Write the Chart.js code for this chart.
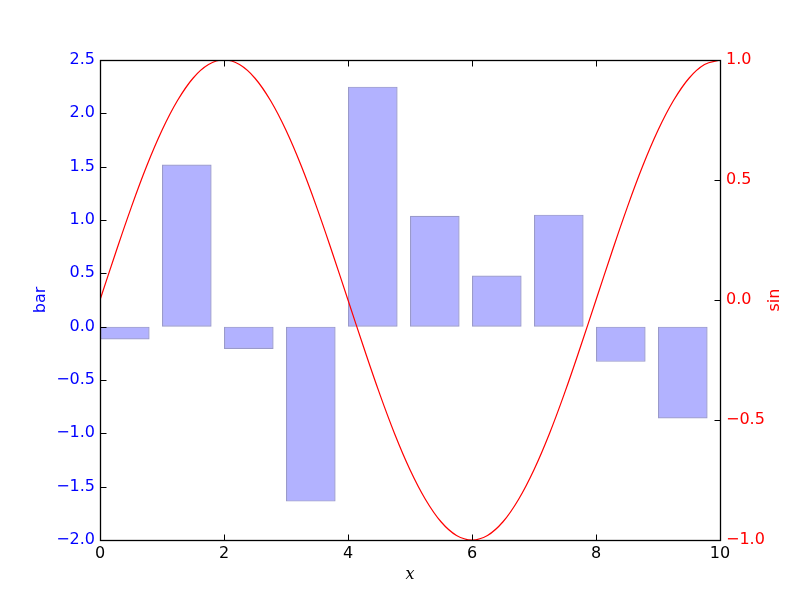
<!DOCTYPE html>
<html>
<head>
<meta charset="utf-8">
<script src="https://cdn.jsdelivr.net/npm/chart.js@4/dist/chart.umd.min.js"></script>
<style>
  html, body { margin: 0; padding: 0; background: #ffffff; }
  #wrap { width: 800px; height: 600px; }
</style>
</head>
<body>
<div id="wrap"><canvas id="c" width="800" height="600"></canvas></div>
<script>
// ---- data ----
const barCategories = [0, 1, 2, 3, 4, 5, 6, 7, 8, 9];   // left edge of each bar
const barWidth = 0.8;
const barValues = [-0.12, 1.52, -0.21, -1.64, 2.25, 1.04, 0.48, 1.05, -0.33, -0.86];

const sinX = [0, 0.25, 0.5, 0.75, 1, 1.25, 1.5, 1.75, 2, 2.25, 2.5, 2.75, 3, 3.25, 3.5, 3.75,
              4, 4.25, 4.5, 4.75, 5, 5.25, 5.5, 5.75, 6, 6.25, 6.5, 6.75, 7, 7.25, 7.5, 7.75,
              8, 8.25, 8.5, 8.75, 9, 9.25, 9.5, 9.75, 10];
const sinY = [0, 0.195, 0.383, 0.556, 0.707, 0.831, 0.924, 0.981, 1.000, 0.981, 0.924, 0.831, 0.707, 0.556, 0.383, 0.195,
              0, -0.195, -0.383, -0.556, -0.707, -0.831, -0.924, -0.981, -1.000, -0.981, -0.924, -0.831, -0.707, -0.556, -0.383, -0.195,
              0, 0.195, 0.383, 0.556, 0.707, 0.831, 0.924, 0.981, 1.000];

const xTicks = [0, 2, 4, 6, 8, 10];
const leftTicks = [-2.0, -1.5, -1.0, -0.5, 0.0, 0.5, 1.0, 1.5, 2.0, 2.5];
const rightTicks = [-1.0, -0.5, 0.0, 0.5, 1.0];

const leftTitle = 'bar';
const rightTitle = 'sin';
const xTitle = 'x';

// ---- build ----
const barData = barCategories.map((c, i) => ({ x: c + barWidth / 2, y: barValues[i] }));
const lineData = sinX.map((x, i) => ({ x: x, y: sinY[i] }));

const fmt = v => {
  const s = Number(v).toFixed(1);
  return s.replace('-', '\u2212');
};
const fmtInt = v => String(v);

const FONT = { family: 'DejaVu Sans', size: 16 };

const framePlugin = {
  id: 'frame',
  afterDraw(chart) {
    const ctx = chart.ctx;
    const a = chart.chartArea;
    const sx = chart.scales.x, sy = chart.scales.y, sy2 = chart.scales.y2;
    const L = Math.round(a.left) + 0.5, R = Math.round(a.right) + 0.5;
    const T = Math.round(a.top) + 0.5, B = Math.round(a.bottom) + 0.5;
    const tl = 6;
    ctx.save();
    ctx.strokeStyle = '#000000';
    ctx.lineWidth = 1;
    ctx.beginPath();
    xTicks.forEach(v => {
      const px = Math.round(sx.getPixelForValue(v)) + 0.5;
      ctx.moveTo(px, B); ctx.lineTo(px, B - tl);
      ctx.moveTo(px, T); ctx.lineTo(px, T + tl);
    });
    leftTicks.forEach(v => {
      const py = Math.round(sy.getPixelForValue(v)) + 0.5;
      ctx.moveTo(L, py); ctx.lineTo(L + tl, py);
    });
    rightTicks.forEach(v => {
      const py = Math.round(sy2.getPixelForValue(v)) + 0.5;
      ctx.moveTo(R, py); ctx.lineTo(R - tl, py);
    });
    ctx.stroke();
    ctx.lineWidth = 1.3;
    ctx.strokeRect(L, T, R - L, B - T);

    ctx.textAlign = 'center';
    ctx.textBaseline = 'middle';
    ctx.font = '16px "DejaVu Sans"';
    ctx.fillStyle = '#0000ff';
    ctx.save();
    ctx.translate(41, (a.top + a.bottom) / 2);
    ctx.rotate(-Math.PI / 2);
    ctx.fillText(leftTitle, 0, 0);
    ctx.restore();
    ctx.fillStyle = '#ff0000';
    ctx.save();
    ctx.translate(775, (a.top + a.bottom) / 2);
    ctx.rotate(-Math.PI / 2);
    ctx.fillText(rightTitle, 0, 0);
    ctx.restore();
    ctx.fillStyle = '#000000';
    ctx.font = 'italic 16px "DejaVu Serif"';
    ctx.fillText(xTitle, (a.left + a.right) / 2, 575);
    ctx.restore();
  }
};

new Chart(document.getElementById('c'), {
  type: 'bar',
  data: {
    datasets: [
      {
        type: 'line',
        label: rightTitle,
        data: lineData,
        yAxisID: 'y2',
        xAxisID: 'x',
        borderColor: '#ff0000',
        borderWidth: 1.2,
        pointRadius: 0,
        fill: false,
        tension: 0.4,
        order: 0
      },
      {
        type: 'bar',
        label: leftTitle,
        data: barData,
        yAxisID: 'y',
        xAxisID: 'x',
        backgroundColor: 'rgba(0,0,255,0.3)',
        borderColor: '#9a9acb',
        borderWidth: 1.2,
        borderSkipped: false,
        barPercentage: barWidth,
        categoryPercentage: 1.0,
        order: 1
      }
    ]
  },
  options: {
    responsive: false,
    animation: false,
    events: [],
    layout: { padding: { top: 60, left: 0, right: 0, bottom: 0 } },
    plugins: { legend: { display: false }, tooltip: { enabled: false } },
    scales: {
      x: {
        type: 'linear',
        position: 'bottom',
        min: 0, max: 10,
        offset: false,
        grid: { display: false, drawTicks: false },
        border: { display: false },
        afterBuildTicks: s => { s.ticks = xTicks.map(v => ({ value: v })); },
        afterFit: s => { s.height = 60; },
        ticks: { color: '#000000', font: FONT, padding: 4, maxRotation: 0, callback: fmtInt }
      },
      y: {
        type: 'linear',
        position: 'left',
        min: -2.0, max: 2.5,
        grid: { display: false, drawTicks: false },
        border: { display: false },
        afterBuildTicks: s => { s.ticks = leftTicks.map(v => ({ value: v })); },
        afterFit: s => { s.width = 100; },
        ticks: { color: '#0000ff', font: FONT, padding: 5, callback: fmt }
      },
      y2: {
        type: 'linear',
        position: 'right',
        min: -1.0, max: 1.0,
        grid: { display: false, drawTicks: false },
        border: { display: false },
        afterBuildTicks: s => { s.ticks = rightTicks.map(v => ({ value: v })); },
        afterFit: s => { s.width = 80; },
        ticks: { color: '#ff0000', font: FONT, padding: 6, callback: fmt }
      }
    }
  },
  plugins: [framePlugin]
});
</script>
</body>
</html>
